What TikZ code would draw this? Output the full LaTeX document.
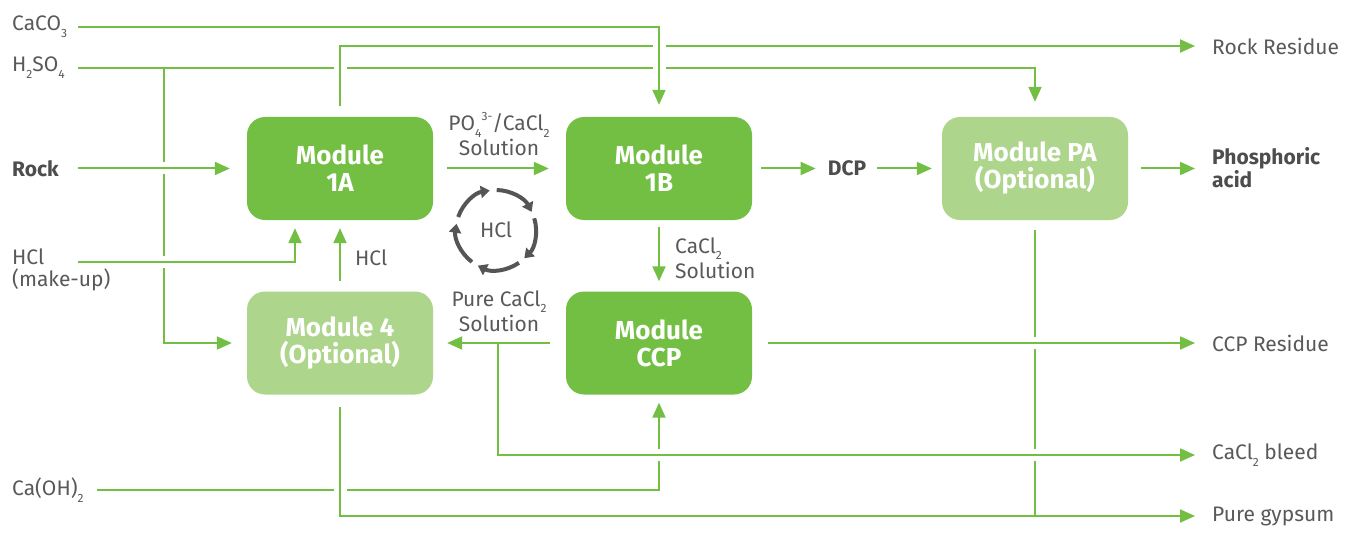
\documentclass[tikz,border=0pt]{standalone}
\usepackage{fontspec}
\setmainfont{Fira Sans}
\usetikzlibrary{arrows.meta}
\definecolor{grn}{HTML}{72BF44}
\definecolor{lgrn}{HTML}{ADD58B}
\definecolor{txt}{HTML}{58595B}
\definecolor{txtb}{HTML}{4D4D4F}
\definecolor{cyc}{HTML}{555557}
\newcommand\mysub[1]{\raisebox{-0.32em}{\fontsize{12}{12}\selectfont #1}}
\newcommand\mysup[1]{\raisebox{0.5em}{\fontsize{12}{12}\selectfont #1}}
\newcommand\hbr[2]{\fill[white] (#1-6.5,#2-2) rectangle (#1+6.5,#2+2); \draw[flow] (#1,#2-4) -- (#1,#2+4);}
\newcommand\vbr[2]{\fill[white] (#1-2,#2-6) rectangle (#1+2,#2+6); \draw[flow] (#1-4,#2) -- (#1+4,#2);}
\begin{document}
\begin{tikzpicture}[x=1pt,y=-1pt,
  flow/.style={draw=grn, line width=2pt},
  arr/.style={flow,-{Triangle[length=15pt,width=13pt]}},
  mod/.style={rounded corners=18pt, minimum width=186pt, minimum height=103pt, text=white, align=center, font=\fontsize{26}{27}\selectfont\bfseries, inner sep=0pt},
  dark/.style={mod, fill=grn},
  light/.style={mod, fill=lgrn},
  lbl/.style={text=txt, font=\fontsize{21}{25}\selectfont, inner sep=0pt},
  blbl/.style={text=txtb, font=\fontsize{21}{17}\selectfont\bfseries, inner sep=0pt},
  cycarr/.style={draw=cyc, line width=4pt, -{Triangle[length=9pt,width=12pt]}}
]
\useasboundingbox (0,0) rectangle (1359,540);
\fill[white] (0,0) rectangle (1359,540);

% modules
\node[dark]  (m1a)  at (340,168.5) {Module\\1A};
\node[dark]  (m1b)  at (659,168.5) {Module\\1B};
\node[light] (pa)   at (1035,168.5) {Module PA\\(Optional)};
\node[light] (m4)   at (340,343) {Module 4\\(Optional)};
\node[dark]  (mccp) at (659,343) {Module\\CCP};

% left labels
\node[lbl,anchor=west] (caco) at (12,27) {CaCO\mysub{3}};
\node[lbl,anchor=west] (hso) at (12,68) {H\mysub{2}SO\mysub{4}};
\node[blbl,anchor=west] (rock) at (12,168.5) {Rock};
\node[lbl,anchor=west,align=left,font=\fontsize{21}{22}\selectfont] (hclm) at (12,270) {HCl\\(make-up)};
\node[lbl,anchor=west] (caoh) at (12,490) {Ca(OH)\mysub{2}};

% right labels
\node[lbl,anchor=west] (rr) at (1212,46) {Rock Residue};
\node[blbl,anchor=west,align=left] (phos) at (1212,168) {Phosphoric\\acid};
\node[lbl,anchor=west] (ccpr) at (1212,343) {CCP Residue};
\node[lbl,anchor=west] (bleed) at (1212,455) {CaCl\mysub{2} bleed};
\node[lbl,anchor=west] (gyp) at (1212,516) {Pure gypsum};

% middle labels
\node[blbl] (dcp) at (847,168.5) {DCP};
\node[lbl,align=center] (po) at (499,134) {PO\mysub{4}\mysup{3-}/CaCl\mysub{2}\\Solution};
\node[lbl,align=left,anchor=west] (cacls) at (675,258) {CaCl\mysub{2}\\Solution};
\node[lbl,align=center] (pure) at (499,311) {Pure CaCl\mysub{2}\\Solution};
\node[lbl,anchor=west] (hcll) at (355,258) {HCl};

% coordinates
\coordinate (cin) at (78,27);
\coordinate (hin) at (78,68);
\coordinate (rin) at (78,168.5);
\coordinate (mkin) at (78,262);
\coordinate (cain) at (97,490);
\coordinate (hb) at (164,68);
\coordinate (bl) at (498,343);
\coordinate (pg) at (1035,516);
\coordinate (hcin) at ([xshift=-45pt]m1a.south);

% connectors
\draw[arr,shorten >=12pt] (cin) -| (m1b.north);
\draw[arr,shorten <=11pt,shorten >=17pt] (m1a.north) |- (rr.west);
\draw[arr,shorten >=15pt] (hin) -| (pa.north);
\draw[arr,shorten >=15pt] (hb) |- (m4.west);
\draw[arr,shorten >=17pt] (rin) -- (m1a.west);
\draw[arr,shorten >=8pt] (mkin) -| (hcin);
\draw[arr,shorten <=10pt,shorten >=8pt] (m4.north) -- (m1a.south);
\draw[arr,shorten <=14pt,shorten >=17pt] (m1a.east) -- (m1b.west);
\draw[arr,shorten <=9pt,shorten >=12pt] (m1b.east) -- (dcp.west);
\draw[arr,shorten <=11pt,shorten >=10pt] (dcp.east) -- (pa.west);
\draw[arr,shorten <=13pt,shorten >=17pt] (pa.east) -- (pa.east -| phos.west);
\draw[arr,shorten <=7pt,shorten >=10pt] (m1b.south) -- (mccp.north);
\draw[arr,shorten <=16pt,shorten >=14pt] (mccp.west) -- (m4.east);
\draw[arr,shorten >=17pt] (bl) |- (bleed.west);
\draw[arr,shorten >=8pt] (cain) -| (mccp.south);
\draw[arr,shorten <=16pt,shorten >=17pt] (mccp.east) -- (ccpr.west);
\draw[arr,shorten <=12pt,shorten >=17pt] (m4.south) |- (gyp.west);
\draw[flow,shorten <=10pt] (pa.south) -- (pg);

% crossings
\hbr{340}{68}
\hbr{659}{68}
\hbr{659}{46}
\hbr{340}{490}
\vbr{164}{168.5}
\vbr{164}{262}
\vbr{659}{455}
\vbr{1035}{343}
\vbr{1035}{455}

% HCl cycle
\coordinate (hc) at (496,230);
\node[lbl] (hcl) at (hc) {HCl};
\foreach \s/\e in {-161/-99, -89/-27, -17/45, 55/117, -233/-171}
  \draw[cycarr] (hc) ++(\s:40) arc[start angle=\s, end angle=\e, radius=40];
\end{tikzpicture}
\end{document}
